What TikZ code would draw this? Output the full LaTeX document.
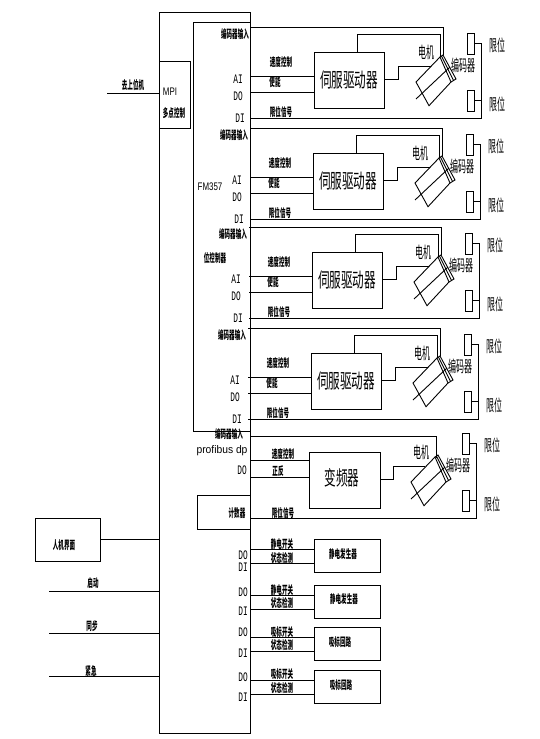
\documentclass[tikz,border=0pt]{standalone}
\usepackage{fontspec}
\newfontfamily\cjk{Noto Sans CJK SC}
\newfontfamily\lmono{Liberation Mono}
\setmainfont{Liberation Sans}
\newcounter{lab}
\tikzset{
  x=1pt,y=-1pt,
  every path/.style={line width=0.9pt,line join=miter},
  boxn/.style={draw,inner sep=0pt,outer sep=0pt},
  txt/.style={inner sep=0pt,outer sep=0pt,transform shape,align=center},
  sm/.style={txt,font=\cjk\bfseries\fontsize{11.5}{11.5}\selectfont,xscale=.48},
  md/.style={txt,font=\cjk\fontsize{16}{16}\selectfont,xscale=.5},
  lg/.style={txt,font=\cjk\fontsize{20}{20}\selectfont,xscale=.58},
  io/.style={txt,font=\lmono\fontsize{13}{13}\selectfont,xscale=.6},
  thin text/.style={txt,font=\fontsize{11}{11}\selectfont,xscale=.72}
}
\newcommand{\lab}[4]{\stepcounter{lab}\node[#1] (lab\thelab) at (#2,#3) {#4};}
\newcommand{\boxat}[6][]{\node[boxn,minimum width=#4pt-#3pt,minimum height=#6pt-#5pt,anchor=north west] (#2) at (#3,#5) {#1};}
% limit switches, encoder labels and the motor body, in the coordinates of block one
\newcommand{\motorparts}[1]{
  \coordinate (ma#1) at (416,82);
  \coordinate (mb#1) at (440,57);
  \coordinate (mc#1) at (451,82);
  \coordinate (md#1) at (429,105.7);
  \coordinate (me#1) at (443,55);
  \coordinate (mf#1) at (456,79);
  \coordinate (mg#1) at (441.5,56);
  \coordinate (mh#1) at (453.5,80.5);
  \coordinate (mi#1) at (416,99);
  \coordinate (mj#1) at (450,67);
  \draw (ma#1) -- (mb#1) -- (mc#1) -- (md#1) -- cycle;
  \draw (mb#1) -- (me#1) -- (mf#1) -- (mc#1);
  \draw (mg#1) -- (mh#1);
  \draw (mi#1) -- (mj#1);
}
\newcommand{\limitparts}[2]{
  \boxat{lima#1}{467}{474}{33}{54}
  \boxat{limb#1}{467}{474}{90}{111}
  \coordinate (rail#1) at (481,43.5);
  \draw (limb#1.east) -- (limb#1.east -| rail#1);
  \lab{md}{497}{45}{限位}
  \lab{md}{497}{104}{限位}
  \lab{md}{463}{65}{编码器}
  \lab{md}{#2}{52}{电机}
}
\newcommand{\driveblock}[4]{
\begin{scope}[shift={(#2,#3)}]
  \boxat{servo#1}{314}{384}{52}{108}
  \motorparts{#1}
  \limitparts{#1}{#4}
  \coordinate (e#1) at (251,27);
  \coordinate (ai#1) at (251,76);
  \coordinate (do#1) at (251,92);
  \coordinate (di#1) at (251,118);
  \coordinate (tap#1) at (357,52);
  \coordinate (tapb#1) at (440,34);
  \coordinate (out#1) at (431,66);
  \coordinate (out2#1) at (398,79);
  \draw (e#1) -| (me#1);
  \draw (ai#1) -- (ai#1 -| servo#1.west);
  \draw (do#1) -- (do#1 -| servo#1.west);
  \draw (di#1) -| (rail#1) -- (lima#1.east);
  \draw (tap#1) |- (tapb#1) -- (mb#1);
  \draw (out2#1 -| servo#1.east) -- (out2#1) |- (out#1);
  \lab{sm}{235}{34}{编码器输入}
  \lab{sm}{281}{62}{速度控制}
  \lab{sm}{275}{82}{使能}
  \lab{sm}{281}{112}{限位信号}
  \lab{lg}{349}{80}{伺服驱动器}
  \lab{io}{238}{79}{AI}
  \lab{io}{238}{96}{DO}
  \lab{io}{240}{118}{DI}
\end{scope}
}
\newcommand{\lowerblock}[9]{
  \boxat{#1}{314}{380}{#2}{#3}
  \coordinate (p#1) at (251,#4);
  \coordinate (q#1) at (251,#5);
  \draw (p#1) -- (p#1 -| #1.west);
  \draw (q#1) -- (q#1 -| #1.west);
  \lab{io}{243}{#6}{DO}
  \lab{io}{243}{#7}{DI}
  \lab{sm}{282}{#8}{#9}
}
\begin{document}
\begin{tikzpicture}
\useasboundingbox (0,0) rectangle (540,739);
\fill[white] (0,0) rectangle (540,739);
\boxat{main}{159}{250.5}{12}{733}
\boxat{fm}{193}{250.5}{22}{431}
\boxat{mpi}{159}{190}{61}{128}
\boxat{counter}{197}{250.5}{495}{529}
\boxat{hmi}{35}{100}{518}{561}

\coordinate (up) at (107,93);
\draw (up) -- (up -| mpi.west);
\lab{sm}{133}{85}{去上位机}
\lab{thin text}{170}{92}{MPI}
\lab{sm}{174}{113}{多点控制}
\lab{thin text}{210}{187}{FM357}
\lab{sm}{215}{258}{位控制器}

\driveblock{1}{0}{0}{426}
\driveblock{2}{-1}{101}{421}
\driveblock{3}{-2}{200}{425}
\driveblock{4}{-3}{301}{425}

% frequency converter branch
\begin{scope}[shift={(-5,400)}]
  \boxat{vfd}{314}{385}{52}{108}
  \motorparts{5}
  \limitparts{5}{426}
  \coordinate (e5) at (256,36);
  \coordinate (ee5) at (441,58);
  \coordinate (ai5) at (256,60);
  \coordinate (do5) at (256,77);
  \coordinate (di5) at (256,118);
  \coordinate (out5) at (430,66);
  \coordinate (out25) at (398,79);
  \draw (e5) -| (ee5);
  \draw (ai5) -- (ai5 -| vfd.west);
  \draw (do5) -- (do5 -| vfd.west);
  \draw (di5) -| (rail5) -- (lima5.east);
  \draw (out25 -| vfd.east) -- (out25) |- (out5);
  \lab{sm}{234}{34}{编码器输入}
  \lab{sm}{288}{54}{速度控制}
  \lab{sm}{283}{71}{正反}
  \lab{sm}{288}{113}{限位信号}
  \lab{lg}{347}{78}{变频器}
  \lab{io}{247}{70}{DO}
  \lab{sm}{242}{113}{计数器}
  \lab{thin text,xscale=1.3}{227}{51}{profibus dp}
\end{scope}

\lowerblock{la}{539}{572}{549}{563}{555}{567}{544}{静电开关}
\lab{sm}{282}{558}{状态检测}
\lab{sm}{343}{554}{静电发生器}
\lowerblock{lb}{585}{618}{595}{609}{592}{611}{590}{静电开关}
\lab{sm}{282}{603}{状态检测}
\lab{sm}{344}{599}{静电发生器}
\lowerblock{lc}{627}{660}{637}{651}{632}{653}{632}{吸标开关}
\lab{sm}{282}{645}{状态检测}
\lab{sm}{340}{642}{吸标回路}
\lowerblock{ld}{670}{703}{680}{694}{677}{697}{674}{吸标开关}
\lab{sm}{282}{688}{状态检测}
\lab{sm}{341}{685}{吸标回路}

\coordinate (hm) at (100,539);
\draw (hm) -- (hm -| main.west);
\lab{sm}{64}{545}{人机界面}
\coordinate (sa) at (49,591);
\coordinate (sb) at (49,633);
\coordinate (sc) at (49,676);
\draw (sa) -- (sa -| main.west);
\draw (sb) -- (sb -| main.west);
\draw (sc) -- (sc -| main.west);
\lab{sm}{93}{583}{启动}
\lab{sm}{92}{626}{同步}
\lab{sm}{91}{671}{紧急}
\end{tikzpicture}
\end{document}
